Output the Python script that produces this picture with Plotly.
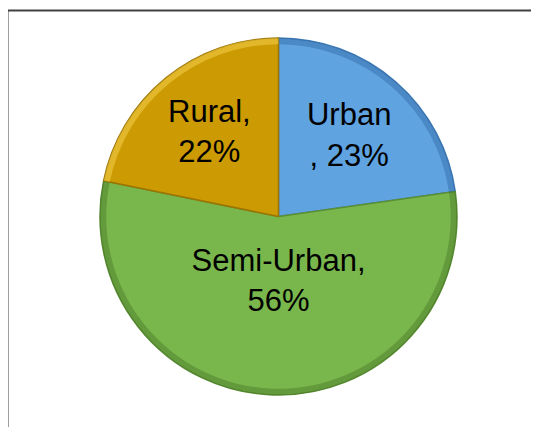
import plotly.graph_objects as go

labels = ["Urban", "Semi-Urban", "Rural"]
values = [23, 56, 22]
label_text = ["Urban<br>, 23%", "Semi-Urban,<br>56%", "Rural,<br>22%"]
colors = ["#5FA3E0", "#79B74C", "#CC9A03"]
edge_colors = ["#3F7DB8", "#5A8E34", "#9C7402"]
rim_colors = ["rgba(40,90,150,0.35)", "rgba(60,100,30,0.35)", "rgba(255,220,90,0.45)"]

# page has an 8px body margin, so the figure is drawn 8px in from the top-left
OFF = 8
W, H = 539 - OFF, 427 - OFF
cx, cy, r = 278.5 - OFF, 216.5 - OFF, 178.5
dom = dict(x=[(cx - r) / W, (cx + r) / W], y=[(H - cy - r) / H, (H - cy + r) / H])

fig = go.Figure()
fig.add_trace(go.Pie(
    labels=labels,
    values=values,
    text=label_text,
    textinfo="text",
    textposition="inside",
    insidetextorientation="horizontal",
    sort=False,
    direction="clockwise",
    rotation=0,
    marker=dict(colors=colors, line=dict(color=edge_colors, width=1.5)),
    textfont=dict(family="Liberation Sans, Arial, sans-serif", size=31, color="black"),
    hoverinfo="label+percent",
    domain=dom,
))
# thin rim to hint at the bevelled edge of each slice
fig.add_trace(go.Pie(
    labels=labels,
    values=values,
    textinfo="none",
    sort=False,
    direction="clockwise",
    rotation=0,
    hole=0.965,
    marker=dict(colors=rim_colors, line=dict(width=0)),
    hoverinfo="skip",
    domain=dom,
))

fig.update_layout(
    width=W, height=H,
    margin=dict(l=0, r=0, t=0, b=0),
    paper_bgcolor="white",
    showlegend=False,
    uniformtext=dict(minsize=31, mode="show"),
    shapes=[dict(type="rect", xref="paper", yref="paper",
                 x0=(7.5 - OFF) / W, x1=1.05, y0=-0.05, y1=1 - (10.5 - OFF) / H,
                 line=dict(color="#404040", width=2), layer="below")],
)

fig.write_html("out.html")
